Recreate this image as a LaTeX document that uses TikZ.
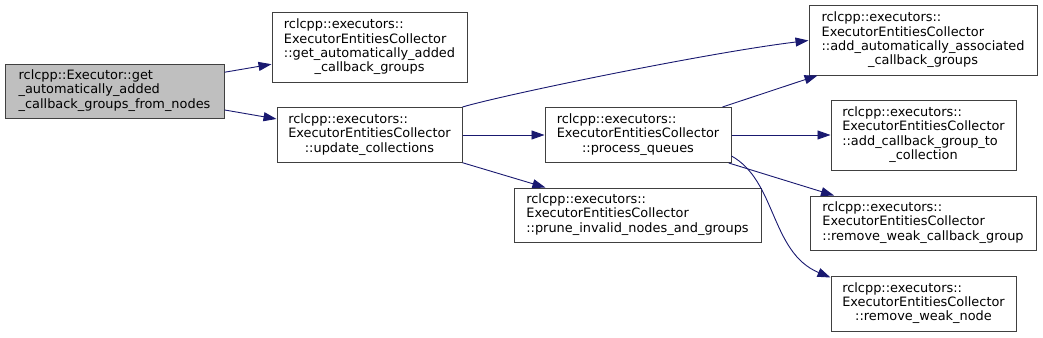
\documentclass[tikz,border=0pt]{standalone}
\usepackage{fontspec}
\setmainfont{DejaVu Sans}
\usepackage{tikz}
\usetikzlibrary{arrows.meta}
\usepackage{xcolor}
\definecolor{edgeblue}{HTML}{191970}
\definecolor{boxline}{HTML}{404040}
\definecolor{rootfill}{HTML}{BFBFBF}
\newcommand{\fnlabel}[2]{\begin{tabular}{@{}l@{}}#1\\\multicolumn{1}{@{}c@{}}{#2}\end{tabular}}

\begin{document}
\begin{tikzpicture}[
    x=1pt, y=-1pt,
    func/.style={draw=boxline, line width=1pt, rectangle, fill=white, inner sep=0pt,
                 align=left, font=\fontsize{12.9}{14.3}\selectfont},
    root/.style={func, fill=rootfill},
    call/.style={-{Triangle[length=13pt,width=9pt]}, edgeblue, line width=0.9pt}
]
\useasboundingbox (0,0) rectangle (1043,337);

\node[root, minimum width=219pt, minimum height=54pt] (getcb) at (114.5,91)
    {\fnlabel{rclcpp::Executor::get\\\_automatically\_added}{\_callback\_groups\_from\_nodes}};
\node[func, minimum width=195pt, minimum height=69pt] (getadded) at (369.5,47.5)
    {\fnlabel{rclcpp::executors::\\ExecutorEntitiesCollector\\::get\_automatically\_added}{\_callback\_groups}};
\node[func, minimum width=185pt, minimum height=55pt] (update) at (369.5,135)
    {\fnlabel{rclcpp::executors::\\ExecutorEntitiesCollector}{::update\_collections}};
\node[func, minimum width=186pt, minimum height=55pt] (process) at (638,135)
    {\fnlabel{rclcpp::executors::\\ExecutorEntitiesCollector}{::process\_queues}};
\node[func, minimum width=247pt, minimum height=54pt] (prune) at (637.5,215)
    {\fnlabel{rclcpp::executors::\\ExecutorEntitiesCollector}{::prune\_invalid\_nodes\_and\_groups}};
\node[func, minimum width=228pt, minimum height=69pt] (addassoc) at (923,40.5)
    {\fnlabel{rclcpp::executors::\\ExecutorEntitiesCollector\\::add\_automatically\_associated}{\_callback\_groups}};
\node[func, minimum width=185pt, minimum height=70pt] (addgroup) at (923.5,135)
    {\fnlabel{rclcpp::executors::\\ExecutorEntitiesCollector\\::add\_callback\_group\_to}{\_collection}};
\node[func, minimum width=226pt, minimum height=54pt] (rmgroup) at (923,223)
    {\fnlabel{rclcpp::executors::\\ExecutorEntitiesCollector}{::remove\_weak\_callback\_group}};
\node[func, minimum width=185pt, minimum height=55pt] (rmnode) at (923.5,303.5)
    {\fnlabel{rclcpp::executors::\\ExecutorEntitiesCollector}{::remove\_weak\_node}};

\draw[call] (getcb) -- (getadded);
\draw[call] (getcb) -- (update);
\draw[call] (update) -- (process);
\draw[call] (update) -- (prune);
\draw[call] (update.north east) .. controls +(40,-12) and +(-100,12) .. (addassoc.west);
\draw[call] (process) -- (addassoc);
\draw[call] (process) -- (addgroup);
\draw[call] (process) -- (rmgroup);
% curved call that passes behind the straight one
\draw[call] ([yshift=7pt]process.south east) .. controls +(45,25) and +(-60,-25) .. ([yshift=-2pt]rmnode.north west);

\end{tikzpicture}
\end{document}
